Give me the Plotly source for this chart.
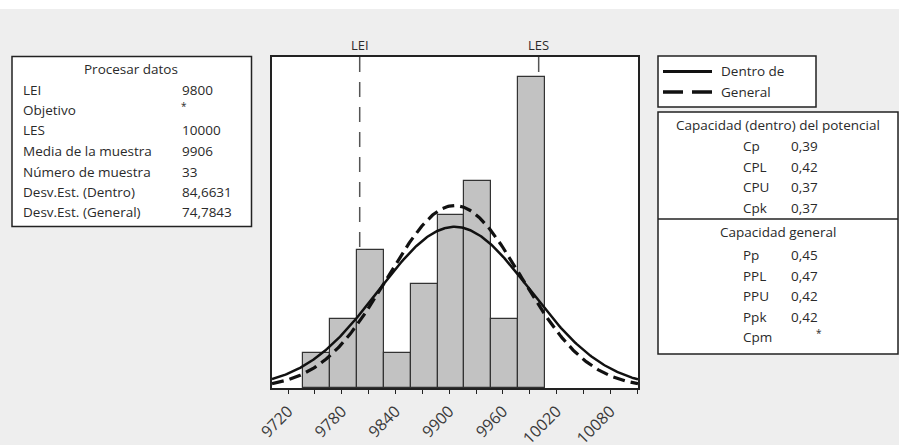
import numpy as np
import plotly.graph_objects as go

# ---------------- data ----------------
bin_mids = [9752, 9782, 9812, 9842, 9872, 9902, 9932, 9962, 9992]
counts = [1, 2, 4, 1, 3, 5, 6, 2, 9]
bin_width = 30
lei, les = 9800, 10000
mean = 9906
n = 33
sd_within = 84.6631
sd_overall = 74.7843

proc_labels = ["LEI", "Objetivo", "LES", "Media de la muestra", "Número de muestra",
               "Desv.Est. (Dentro)", "Desv.Est. (General)"]
proc_values = ["9800", "*", "10000", "9906", "33", "84,6631", "74,7843"]
within_labels = ["Cp", "CPL", "CPU", "Cpk"]
within_values = ["0,39", "0,42", "0,37", "0,37"]
overall_labels = ["Pp", "PPL", "PPU", "Ppk", "Cpm"]
overall_values = ["0,45", "0,47", "0,42", "0,42", "*"]
tick_vals = [9720, 9780, 9840, 9900, 9960, 10020, 10080]
x_range = [9702, 10111]
y_max = 9.58

# ---------------- layout helpers ----------------
W, H = 899, 445
L, R, T, B = 272, 638, 57, 388


def px(x):
    return (x - L) / (R - L)


def py(y):
    return (B - y) / (B - T)


FONT = "Open Sans"
FS = 13.5
TXT = "#2a2a2a"
EDGE = "#222222"

fig = go.Figure()

fig.add_trace(go.Bar(x=bin_mids, y=counts, width=bin_width,
                     marker=dict(color="#c2c2c2", line=dict(color="#333333", width=1.2)),
                     hoverinfo="x+y", showlegend=False))

xs = np.linspace(x_range[0], x_range[1], 300)


def normal_counts(sd):
    return n * bin_width * np.exp(-0.5 * ((xs - mean) / sd) ** 2) / (sd * np.sqrt(2 * np.pi))


fig.add_trace(go.Scatter(x=xs, y=normal_counts(sd_within), mode="lines",
                         line=dict(color="#111111", width=2.5), name="Dentro de", showlegend=False))
fig.add_trace(go.Scatter(x=xs, y=normal_counts(sd_overall), mode="lines",
                         line=dict(color="#111111", width=3.2, dash="12px,6px"), name="General",
                         showlegend=False))

shapes = []
annotations = []

# white strip at very top
shapes.append(dict(type="rect", xref="paper", yref="paper", x0=px(0), x1=px(W), y0=py(0), y1=py(9),
                   fillcolor="white", line=dict(width=0), layer="below"))

# spec lines
for v, name in [(lei, "LEI"), (les, "LES")]:
    shapes.append(dict(type="line", xref="x", yref="y", x0=v, x1=v, y0=y_max, y1=0,
                       line=dict(color="#555555", width=1.5, dash="15px,10px"), layer="below"))
    annotations.append(dict(x=v, xref="x", y=py(45.5), yref="paper", text=name, showarrow=False,
                            xanchor="center", yanchor="middle",
                            font=dict(family=FONT, size=13, color=TXT)))


def box(x0, y0, x1, y1):
    shapes.append(dict(type="rect", xref="paper", yref="paper", x0=px(x0), x1=px(x1), y0=py(y0), y1=py(y1),
                       fillcolor="white", line=dict(color=EDGE, width=1.5), layer="below"))


def text(x, y, s, anchor="left", size=FS):
    annotations.append(dict(x=px(x), y=py(y), xref="paper", yref="paper", text=s, showarrow=False,
                            xanchor=anchor, yanchor="middle",
                            font=dict(family=FONT, size=size, color=TXT)))


# left process data box
box(12, 56.5, 251.5, 226.5)
text(131, 69, "Procesar datos", "center")
rows_left = [90, 110, 130, 151, 171.5, 192, 212]
for lab, val, y in zip(proc_labels, proc_values, rows_left):
    text(21, y, lab)
    if val == "*":
        text(184, y - 4, val, "center", 10)
    else:
        text(180, y, val)

# legend box
box(658, 56, 816, 107)
shapes.append(dict(type="line", xref="paper", yref="paper", x0=px(663), x1=px(712), y0=py(71.5), y1=py(71.5),
                   line=dict(color="#111111", width=3)))
shapes.append(dict(type="line", xref="paper", yref="paper", x0=px(663), x1=px(712), y0=py(92), y1=py(92),
                   line=dict(color="#111111", width=3.5, dash="20px,9px")))
text(719, 71, "Dentro de")
text(719, 92, "General")

# capability box
box(658, 112, 898, 354)
shapes.append(dict(type="line", xref="paper", yref="paper", x0=px(658), x1=px(898), y0=py(219), y1=py(219),
                   line=dict(color=EDGE, width=1.5)))
text(778, 125, "Capacidad (dentro) del potencial", "center")
for lab, val, y in zip(within_labels, within_values, [146, 166.5, 187, 207.5]):
    text(741, y, lab)
    text(789, y, val)
text(778, 232, "Capacidad general", "center")
for lab, val, y in zip(overall_labels, overall_values, [255, 275.5, 296, 316.5, 337]):
    text(741, y, lab)
    if val == "*":
        text(819, y - 4, val, "center", 10)
    else:
        text(789, y, val)

fig.update_layout(
    width=W, height=H,
    margin=dict(l=L, r=W - R, t=T, b=H - B, pad=0, autoexpand=False),
    paper_bgcolor="#eeeeee", plot_bgcolor="white",
    bargap=0, showlegend=False,
    shapes=shapes, annotations=annotations,
    xaxis=dict(range=x_range, tickvals=tick_vals, ticktext=[str(v) for v in tick_vals],
               tickangle=-45, ticks="outside", ticklen=4, tickcolor=EDGE, tickwidth=1.2,
               minor=dict(dtick=30, tick0=9720, ticks="outside", ticklen=4, tickcolor=EDGE, tickwidth=1.2),
               showline=True, linecolor=EDGE, linewidth=1.5, mirror=True,
               showgrid=False, zeroline=False, automargin=False, ticklabelstandoff=2,
               tickfont=dict(family=FONT, size=16, color="#3a3a3a")),
    yaxis=dict(range=[0, y_max], showticklabels=False, ticks="", showgrid=False, zeroline=False,
               showline=True, linecolor=EDGE, linewidth=1.5, mirror=True, automargin=False),
)

fig.write_html("out.html", config={"displayModeBar": False},
               post_script="document.body.style.margin='0';document.body.style.overflow='hidden';")
